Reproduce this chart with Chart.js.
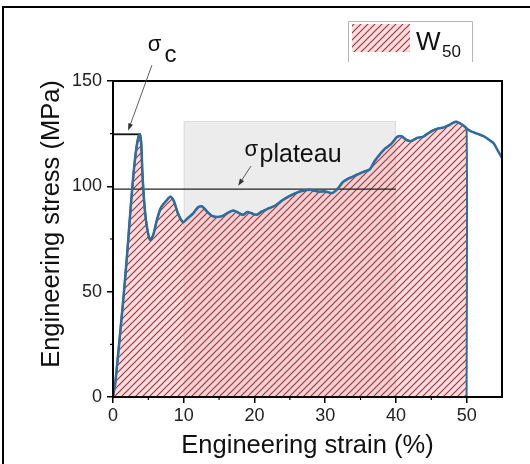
<!DOCTYPE html>
<html>
<head>
<meta charset="utf-8">
<script src="https://cdn.jsdelivr.net/npm/chart.js@4"></script>
<style>
  html, body { margin: 0; padding: 0; background: #fff; }
  canvas { display: block; }
</style>
</head>
<body>
<canvas id="chart" width="530" height="464"></canvas>
<script>
// stress-strain curve (strain in %, stress in MPa)
const strain = [0, 0.3, 0.6, 1.0, 1.5, 2.0, 2.5, 2.9, 3.3, 3.6, 3.8, 4.0, 4.15, 4.4, 4.66, 5.0, 5.25, 5.7, 6.2, 6.8, 7.5, 8.1,
  8.6, 9.2, 9.9, 10.6, 11.3, 12.0, 12.6, 13.3, 14.0, 14.8, 15.5, 16.3, 17.0, 17.7, 18.4, 19.0, 19.6, 20.3, 21.0, 22.0,
  23.0, 24.0, 25.0, 26.0, 27.0, 28.0, 29.0, 30.0, 31.0, 31.8, 32.5, 33.5, 34.5, 35.5, 36.3, 37.0, 37.8, 38.5, 39.3,
  40.2, 40.8, 41.5, 42.2, 43.0, 43.8, 44.5, 45.2, 46.0, 46.8, 47.5, 48.0, 48.5, 49.0, 49.5, 50.0, 50.7, 51.5, 52.4,
  53.2, 53.8, 54.4, 55.0];
const stress = [0, 6, 16, 30, 48, 68, 90, 106, 118, 123.5, 124.7, 120, 107, 93, 84, 77, 74.5, 77, 84, 90, 93, 95,
  93, 87, 83, 85, 87, 90, 90.5, 88, 86, 85.5, 86, 87.5, 88.5, 87.5, 86.5, 87.8, 87.2, 86.5, 88, 89.5,
  91, 93.5, 95.5, 97, 98, 98.3, 97.5, 97.6, 96.8, 99, 102, 104, 105.5, 107, 108, 112, 115.5, 118, 120,
  123.5, 123.8, 122, 121.5, 123, 123.5, 125, 126.5, 127.5, 128, 129, 130, 130.7, 130, 129, 127.5, 126, 125, 123.8,
  122, 120.5, 117, 113.5];

const xTicks = [0, 10, 20, 30, 40, 50];
const yTicks = [0, 50, 100, 150];
const xMinor = [5, 15, 25, 35, 45];
const yMinor = [25, 75, 125];

const workLimit = 50;            // W50 is integrated up to 50 % strain
const sigmaC = 124.7;
const sigmaCStrain = 3.7;
const sigmaPlateau = 98.7;
const plateauStart = 10;
const plateauEnd = 40;
const plateauBoxTop = 131;

const FONT = '"Liberation Sans", Arial, sans-serif';
const BLUE = '#2f6d9c';

const curve = strain.map((x, i) => ({ x: x, y: stress[i] }));
const work = curve.filter(p => p.x <= workLimit).concat([{ x: workLimit, y: 0 }]);

const canvas = document.getElementById('chart');
const ctx = canvas.getContext('2d');

function makeHatch() {
  const c = document.createElement('canvas');
  c.width = 7; c.height = 7;
  const g = c.getContext('2d');
  g.fillStyle = 'rgba(240,170,170,0.38)';
  g.fillRect(0, 0, 7, 7);
  g.strokeStyle = '#b0323a';
  g.lineWidth = 1.2;
  g.beginPath();
  g.moveTo(-1, 8); g.lineTo(8, -1);
  g.moveTo(-1, 1); g.lineTo(1, -1);
  g.moveTo(6, 8); g.lineTo(8, 6);
  g.stroke();
  return ctx.createPattern(c, 'repeat');
}
const hatch = makeHatch();

function arrow(c, x1, y1, x2, y2) {
  const a = Math.atan2(y2 - y1, x2 - x1);
  c.save();
  c.strokeStyle = '#333';
  c.fillStyle = '#333';
  c.lineWidth = 0.8;
  c.beginPath();
  c.moveTo(x1, y1);
  c.lineTo(x2 - 5 * Math.cos(a), y2 - 5 * Math.sin(a));
  c.stroke();
  c.beginPath();
  c.moveTo(x2, y2);
  c.lineTo(x2 - 7 * Math.cos(a) + 2.5 * Math.sin(a), y2 - 7 * Math.sin(a) - 2.5 * Math.cos(a));
  c.lineTo(x2 - 7 * Math.cos(a) - 2.5 * Math.sin(a), y2 - 7 * Math.sin(a) + 2.5 * Math.cos(a));
  c.closePath();
  c.fill();
  c.restore();
}

const extras = {
  id: 'extras',
  beforeDraw(chart) {
    const c = chart.ctx;
    c.save();
    c.fillStyle = '#fff';
    c.fillRect(0, 0, chart.width, chart.height);
    c.strokeStyle = '#000';
    c.lineWidth = 2;
    c.beginPath();
    c.moveTo(3, chart.height);
    c.lineTo(3, 7);
    c.lineTo(chart.width, 7);
    c.stroke();
    c.restore();
  },
  beforeDatasetsDraw(chart) {
    const c = chart.ctx, x = chart.scales.x, y = chart.scales.y;
    const l = x.getPixelForValue(plateauStart), r = x.getPixelForValue(plateauEnd);
    const t = y.getPixelForValue(plateauBoxTop), b = y.getPixelForValue(0);
    c.save();
    c.fillStyle = '#ececec';
    c.fillRect(l, t, r - l, b - t);
    c.strokeStyle = '#dcdcdc';
    c.lineWidth = 1;
    c.strokeRect(l + 0.5, t + 0.5, r - l - 1, b - t);
    c.restore();
  },
  afterDraw(chart) {
    const c = chart.ctx, x = chart.scales.x, y = chart.scales.y, a = chart.chartArea;
    c.save();
    // frame
    c.strokeStyle = '#000';
    c.lineWidth = 2;
    c.strokeRect(a.left, a.top, a.right - a.left, a.bottom - a.top);
    // minor ticks
    c.lineWidth = 1.2;
    c.beginPath();
    xMinor.forEach(v => { const px = x.getPixelForValue(v); c.moveTo(px, a.bottom); c.lineTo(px, a.bottom + 3); });
    yMinor.forEach(v => { const py = y.getPixelForValue(v); c.moveTo(a.left, py); c.lineTo(a.left - 3, py); });
    c.stroke();

    // axis titles
    c.fillStyle = '#111';
    c.font = '25.5px ' + FONT;
    c.textAlign = 'center';
    c.textBaseline = 'middle';
    c.fillText('Engineering strain (%)', (a.left + a.right) / 2, 446);
    c.save();
    c.translate(52, (a.top + a.bottom) / 2 - 15);
    c.rotate(-Math.PI / 2);
    c.fillText('Engineering stress (MPa)', 0, 0);
    c.restore();

    // sigma_c label and arrow
    c.textAlign = 'left';
    c.textBaseline = 'alphabetic';
    const scx = x.getPixelForValue(4.9), scy = y.getPixelForValue(164.2);
    c.font = '22px ' + FONT;
    c.fillText('\u03c3', scx, scy);
    c.font = '24px ' + FONT;
    c.fillText('c', scx + c.measureText('\u03c3').width + 2, scy + 11);
    arrow(c, x.getPixelForValue(5.5), y.getPixelForValue(157.5), x.getPixelForValue(2.15), y.getPixelForValue(126.5));

    // sigma_plateau label and arrow
    const spx = x.getPixelForValue(18.6), spy = y.getPixelForValue(114.5);
    c.font = '22px ' + FONT;
    c.fillText('\u03c3', spx, spy);
    c.font = '25px ' + FONT;
    c.fillText('plateau', spx + 15, spy + 6);
    arrow(c, x.getPixelForValue(19.5), y.getPixelForValue(109.6), x.getPixelForValue(17.7), y.getPixelForValue(100.3));

    // legend
    c.strokeStyle = '#b5b5b5';
    c.lineWidth = 1;
    c.beginPath();
    c.moveTo(348.5, 62); c.lineTo(348.5, 21.5); c.lineTo(472.5, 21.5); c.lineTo(472.5, 62);
    c.stroke();
    c.fillStyle = hatch;
    c.fillRect(352, 24, 58, 28);
    c.fillStyle = '#111';
    c.font = '26px ' + FONT;
    c.fillText('W', 416, 50);
    c.font = '17px ' + FONT;
    c.fillText('50', 442, 57);
    c.restore();
  }
};

new Chart(ctx, {
  type: 'line',
  data: {
    datasets: [
      {
        label: 'curve',
        data: curve,
        borderColor: BLUE,
        borderWidth: 2.5,
        pointRadius: 0,
        fill: false,
        tension: 0.25
      },
      {
        label: 'sigma_c',
        data: [{ x: 0, y: sigmaC }, { x: sigmaCStrain, y: sigmaC }],
        borderColor: '#111',
        borderWidth: 1.8,
        pointRadius: 0,
        fill: false
      },
      {
        label: 'sigma_plateau',
        data: [{ x: 0, y: sigmaPlateau }, { x: plateauEnd, y: sigmaPlateau }],
        borderColor: '#222',
        borderWidth: 1.3,
        pointRadius: 0,
        fill: false
      },
      {
        label: 'W50',
        data: work,
        borderColor: BLUE,
        borderWidth: 2,
        backgroundColor: hatch,
        pointRadius: 0,
        fill: 'origin',
        tension: 0.25
      }
    ]
  },
  options: {
    responsive: false,
    animation: false,
    devicePixelRatio: 1,
    layout: { padding: { top: 81, right: 28, left: 0, bottom: 0 } },
    plugins: { legend: { display: false }, tooltip: { enabled: false } },
    scales: {
      x: {
        type: 'linear',
        min: 0,
        max: 55,
        afterBuildTicks: s => { s.ticks = xTicks.map(v => ({ value: v })); },
        afterFit: s => { s.height = 67; },
        grid: { drawOnChartArea: false, drawTicks: true, tickLength: 6, color: '#000', lineWidth: 1.5 },
        border: { display: true, color: '#000', width: 2 },
        ticks: { color: '#222', padding: 2, font: { size: 18, family: FONT } }
      },
      y: {
        type: 'linear',
        min: 0,
        max: 150,
        afterBuildTicks: s => { s.ticks = yTicks.map(v => ({ value: v })); },
        afterFit: s => { s.width = 113; },
        grid: { drawOnChartArea: false, drawTicks: true, tickLength: 6, color: '#000', lineWidth: 1.5 },
        border: { display: true, color: '#000', width: 2 },
        ticks: { color: '#222', padding: 5, font: { size: 18, family: FONT } }
      }
    }
  },
  plugins: [extras]
});
</script>
</body>
</html>
